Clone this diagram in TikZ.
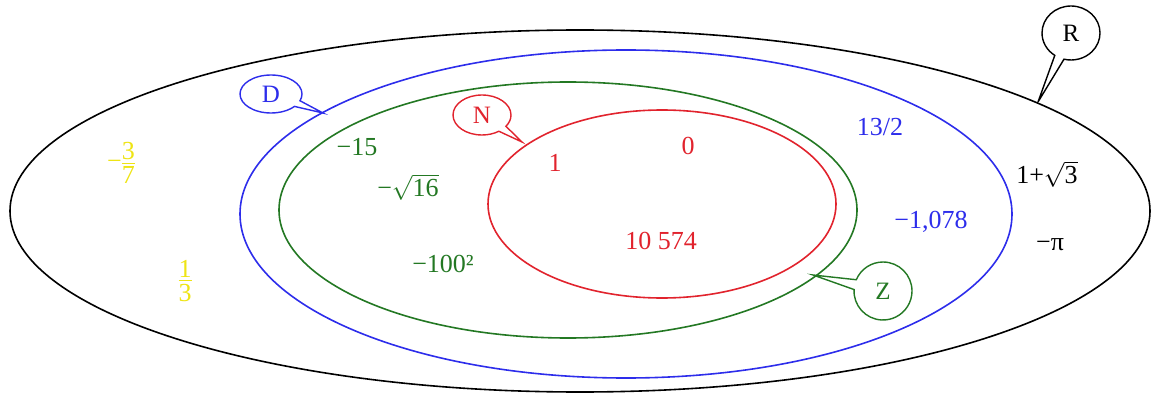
\documentclass[tikz,border=0pt]{standalone}
\usepackage{fontspec}
\setmainfont{Liberation Serif}
\usetikzlibrary{shapes.callouts}
\definecolor{cblue}{RGB}{45,45,235}
\definecolor{cgreen}{RGB}{35,120,35}
\definecolor{cred}{RGB}{225,35,45}
\definecolor{cyel}{RGB}{238,228,20}
\newcommand\stk[2]{\ensuremath{\vcenter{\offinterlineskip\halign{\hfil##\hfil\cr
  \hbox{#1}\cr\noalign{\kern2.5pt\hrule height 0.9pt\kern3pt}
  \hbox{#2}\cr}}}}
\tikzset{
  setline/.style={line width=1.6pt},
  lbl/.style={inner sep=1pt, font=\fontsize{26}{30}\selectfont},
  balloon/.style={ellipse callout, draw=#1, text=#1, fill=white, line width=1.4pt,
     inner sep=0pt, callout pointer arc=20, font=\fontsize{25}{30}\selectfont}
}
\begin{document}
\begin{tikzpicture}[x=1pt,y=-1pt]
\useasboundingbox (0,0) rectangle (1158,398);
% sets
\draw[setline, black] (580,211) ellipse [x radius=570, y radius=181];
\draw[setline, cblue] (626,214) ellipse [x radius=386, y radius=164];
\draw[setline, cgreen] (568,210) ellipse [x radius=289, y radius=128];
\draw[setline, cred] (662,204) ellipse [x radius=174, y radius=94];
% pointer tips
\coordinate (tR) at (1038,102);
\coordinate (tD) at (323,113);
\coordinate (tN) at (522,142);
\coordinate (tZ) at (813,275);
% callouts
\node[balloon=black, minimum width=58pt, minimum height=54pt, callout absolute pointer=(tR)] (R) at (1071,33) {R};
\node[balloon=cblue, minimum width=62pt, minimum height=38pt, callout absolute pointer=(tD)] (D) at (271,94) {D};
\node[balloon=cred, minimum width=58pt, minimum height=40pt, callout absolute pointer=(tN)] (N) at (482,115) {N};
\node[balloon=cgreen, minimum width=58pt, minimum height=58pt, callout absolute pointer=(tZ)] (Z) at (883,291) {Z};
% yellow
\node[lbl, text=cyel] (q1) at (121,163) {−\stk{3}{7}};
\node[lbl, text=cyel] (q2) at (185,281) {\stk{1}{3}};
% green
\node[lbl, text=cgreen] (z1) at (357,147) {−15};
\node[lbl, text=cgreen] (z2) at (408,187) {−$\sqrt{\hbox{16}}$};
\node[lbl, text=cgreen] (z3) at (443,264) {−100²};
% red
\node[lbl, text=cred] (n1) at (555,163) {1};
\node[lbl, text=cred] (n0) at (688,146) {0};
\node[lbl, text=cred] (n2) at (661,241) {10 574};
% blue
\node[lbl, text=cblue] (d1) at (880,127) {13/2};
\node[lbl, text=cblue] (d2) at (931,222) {−1,078};
% black
\node[lbl, text=black] (r1) at (1047,174) {1+$\sqrt{\hbox{3}}$};
\node[lbl, text=black] (r2) at (1050,245) {−π};
\end{tikzpicture}
\end{document}
